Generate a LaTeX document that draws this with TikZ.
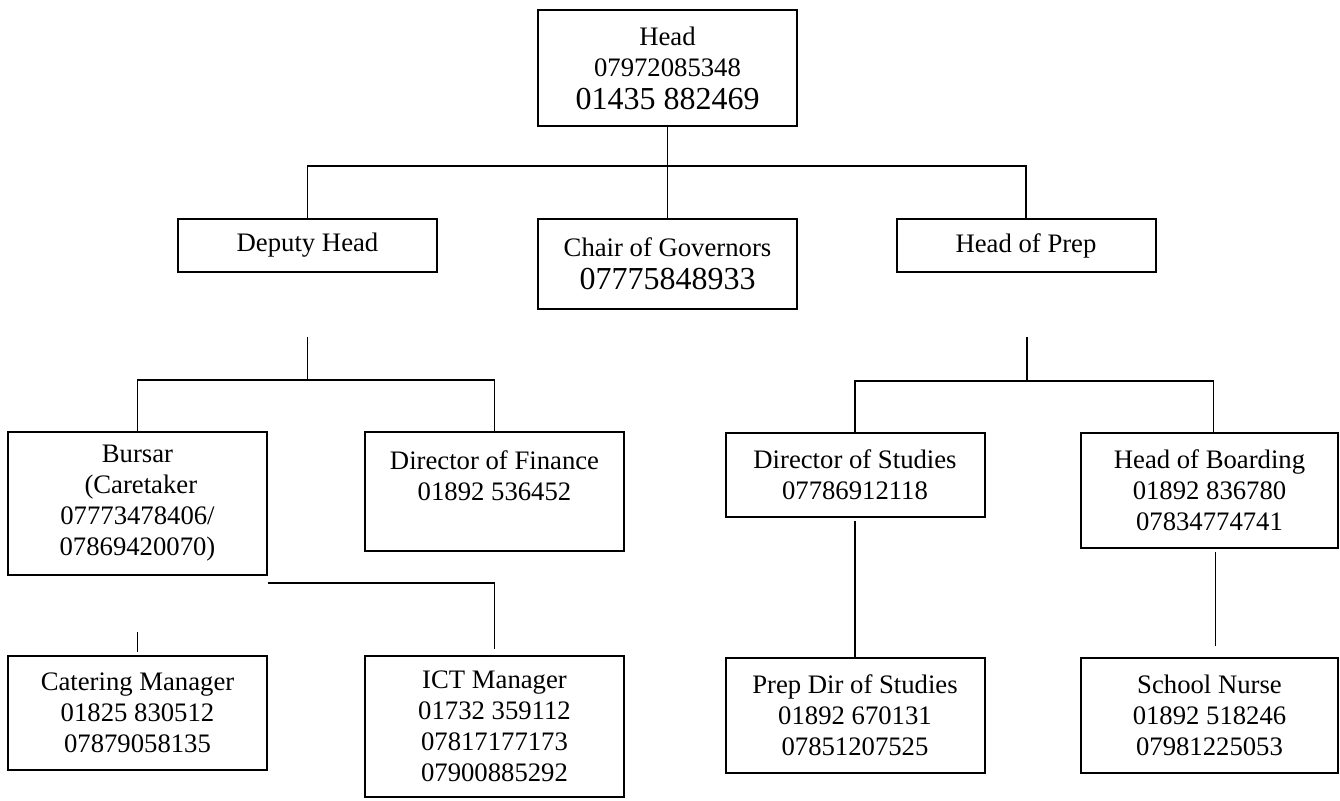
\documentclass[tikz,border=0pt]{standalone}
\usepackage{fontspec}
\setmainfont{Liberation Serif}
\usepackage{tikz}

\begin{document}
\begin{tikzpicture}[x=1pt,y=-1pt,
  post/.style={draw, line width=2pt, minimum width=259pt, inner sep=0pt, align=center, font=\fontsize{26.7}{31}\selectfont},
  link/.style={line width=1.3pt}]
\useasboundingbox (0,0) rectangle (1340,800);
% top level
\node[post, minimum height=116pt] (head) at (667.5,68) {Head\\ 07972085348\\[2pt] {\fontsize{32}{36}\selectfont 01435 882469}};
\node[post, minimum height=53pt] (deputy) at (307.5,245.5) {Deputy Head};
\node[post, minimum height=90pt] (chair) at (667.5,264) {Chair of Governors\\[2pt] {\fontsize{32}{36}\selectfont 07775848933}};
\node[post, minimum height=53pt] (prep) at (1026,245.5) {Head of Prep};
% middle level
\node[post, minimum height=143pt] (bursar) at (137.5,503.5) {Bursar\\ \ (Caretaker\\ 07773478406/\\ 07869420070)};
\node[post, minimum height=119pt] (finance) at (494.5,491.5) {Director of Finance\\ 01892 536452\\ ~};
\node[post, minimum height=84pt] (studies) at (855,475) {Director of Studies\\ 07786912118};
\node[post, minimum height=115pt, minimum width=257pt] (boarding) at (1209.5,490.5) {Head of Boarding\\ 01892 836780\\ 07834774741};
% bottom level
\node[post, minimum height=114pt] (catering) at (137.5,713) {Catering Manager\\ 01825 830512\\ 07879058135};
\node[post, minimum height=141pt] (ict) at (494.5,726.5) {ICT Manager\\ 01732 359112\\ 07817177173\\ 07900885292};
\node[post, minimum height=115pt] (prepdir) at (855,715.5) {Prep Dir of Studies\\ 01892 670131\\ 07851207525};
\node[post, minimum height=115pt, minimum width=257pt] (nurse) at (1209.5,715.5) {School Nurse\\ 01892 518246\\ 07981225053};
% connectors
\coordinate (topbar) at (667.5,166);
\draw[link] (head.south) -- (chair.north);
\draw[link] (deputy.north) |- (topbar) -| (prep.north);
\coordinate (dtop) at (307.5,337);
\draw[link] (dtop) -- ++(0,43) coordinate (dbar);
\draw[link] (bursar.north) |- (dbar) -| (finance.north);
\coordinate (ptop) at (1027,337);
\draw[link] (ptop) -- ++(0,44) coordinate (pbar);
\draw[link] (studies.north) |- (pbar) -| ([xshift=4pt]boarding.north);
\draw[link] (bursar.south east) ++(0,7) -| ([yshift=6pt]ict.north);
\draw[link] ([yshift=3pt]catering.north) -- ++(0,-20);
\draw[link] ([yshift=-3pt]studies.south) -- (prepdir.north);
\draw[link] ([xshift=6pt,yshift=-3pt]boarding.south) -- ([xshift=6pt,yshift=11pt]nurse.north);
\end{tikzpicture}
\end{document}
